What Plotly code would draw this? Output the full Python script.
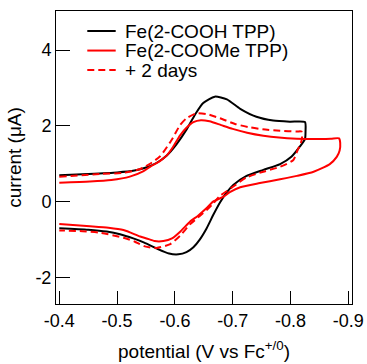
import plotly.graph_objects as go

# ---- data ----
series_names = ["Fe(2-COOH TPP)", "Fe(2-COOMe TPP)", "+ 2 days"]

cooh_potential = [-0.400, -0.450, -0.500, -0.530, -0.550, -0.568, -0.586, -0.603, -0.620, -0.635,
                  -0.649, -0.669, -0.690, -0.713, -0.741, -0.770, -0.799, -0.825,
                  -0.826, -0.825,
                  -0.816, -0.802, -0.782, -0.753, -0.724, -0.701, -0.690, -0.678, -0.666,
                  -0.655, -0.643, -0.632, -0.620, -0.606, -0.590, -0.569, -0.547, -0.528, -0.505,
                  -0.482, -0.450, -0.400]
cooh_current = [0.70, 0.73, 0.77, 0.82, 0.90, 1.02, 1.22, 1.52, 1.90, 2.30,
                2.60, 2.77, 2.70, 2.45, 2.24, 2.14, 2.11, 2.10,
                1.85, 1.65,
                1.45, 1.19, 0.99, 0.84, 0.68, 0.44, 0.25, -0.02, -0.36,
                -0.70, -1.00, -1.20, -1.33, -1.39, -1.37, -1.24, -1.08, -0.97, -0.86,
                -0.79, -0.74, -0.70]

coome_potential = [-0.400, -0.453, -0.490, -0.522, -0.545, -0.557, -0.574, -0.586, -0.597, -0.609,
                   -0.620, -0.632, -0.645, -0.660, -0.680, -0.700, -0.725, -0.753, -0.780, -0.811,
                   -0.840, -0.870, -0.884,
                   -0.886, -0.885, -0.880,
                   -0.868, -0.840, -0.811, -0.782, -0.747, -0.713, -0.695, -0.684, -0.666, -0.655,
                   -0.640, -0.626, -0.610, -0.595, -0.580, -0.565, -0.551, -0.540, -0.511, -0.485,
                   -0.453, -0.400]
coome_current = [0.50, 0.53, 0.57, 0.66, 0.80, 0.92, 1.07, 1.22, 1.45, 1.75,
                 1.95, 2.10, 2.15, 2.12, 2.02, 1.92, 1.82, 1.74, 1.69, 1.66,
                 1.65, 1.66, 1.67,
                 1.55, 1.35, 1.18,
                 0.99, 0.79, 0.68, 0.59, 0.49, 0.38, 0.25, 0.13, 0.00, -0.17,
                 -0.37, -0.53, -0.78, -0.97, -1.04, -1.04, -0.97, -0.92, -0.75, -0.69,
                 -0.65, -0.59]

days2_potential = [-0.400, -0.470, -0.511, -0.540, -0.557, -0.574, -0.594, -0.609, -0.620, -0.637,
                   -0.655, -0.678, -0.704, -0.730, -0.752, -0.782, -0.811, -0.819,
                   -0.820, -0.818,
                   -0.812, -0.805, -0.782, -0.753, -0.724, -0.701, -0.690, -0.678, -0.666, -0.655,
                   -0.643, -0.626, -0.609, -0.592, -0.568, -0.548, -0.530, -0.511, -0.470, -0.440,
                   -0.400]
days2_current = [0.66, 0.73, 0.76, 0.86, 1.00, 1.19, 1.62, 2.02, 2.20, 2.33,
                 2.31, 2.20, 2.05, 1.96, 1.91, 1.87, 1.85, 1.85,
                 1.70, 1.55,
                 1.35, 1.10, 0.92, 0.79, 0.64, 0.40, 0.28, 0.15, -0.05, -0.22,
                 -0.38, -0.60, -0.90, -1.12, -1.22, -1.18, -1.05, -0.95, -0.82, -0.78,
                 -0.76]

x_tick_vals = [-0.4, -0.5, -0.6, -0.7, -0.8, -0.9]
x_tick_text = ["-0.4", "-0.5", "-0.6", "-0.7", "-0.8", "-0.9"]
y_tick_vals = [-2, 0, 2, 4]
y_tick_text = ["-2", "0", "2", "4"]

colors = ["black", "#ff0000", "#ff0000"]
dashes = ["solid", "solid", "7px,4px"]

FONT = "Liberation Sans, Arial, Helvetica, sans-serif"

fig = go.Figure()
for name, xs, ys, c, d in zip(series_names,
                              [cooh_potential, coome_potential, days2_potential],
                              [cooh_current, coome_current, days2_current],
                              colors, dashes):
    fig.add_trace(go.Scatter(x=xs, y=ys, mode="lines", name=name, showlegend=False,
                             line=dict(color=c, width=2, dash=d, shape="spline", smoothing=0.6)))

# legend drawn manually (to match compact row spacing)
leg_rows = [0.9317, 0.865, 0.7986]
for name, c, d, yy in zip(series_names, colors, dashes, leg_rows):
    fig.add_shape(type="line", xref="paper", yref="paper", x0=0.1057, x1=0.2017, y0=yy, y1=yy,
                  line=dict(color=c, width=2, dash=d))
    fig.add_annotation(xref="paper", yref="paper", x=0.2274, y=yy, text=name, showarrow=False,
                       xanchor="left", yanchor="middle", font=dict(family=FONT, size=19, color="black"))

fig.update_layout(
    width=367, height=364,
    margin=dict(l=56, r=15, t=11, b=60),
    paper_bgcolor="white", plot_bgcolor="white",
    font=dict(family=FONT, size=18, color="black"),
    showlegend=False,
)
fig.update_xaxes(range=[-0.3943, -0.9064], tickvals=x_tick_vals, ticktext=x_tick_text,
                 ticks="inside", ticklen=13, tickwidth=1, tickcolor="black",
                 showline=True, linecolor="black", linewidth=1, mirror=True,
                 showgrid=False, zeroline=False, automargin=False,
                 tickfont=dict(size=18),
                 title=dict(text="potential (V vs Fc<sup>+/0</sup>)", font=dict(size=19), standoff=15))
fig.update_yaxes(range=[-2.70, 5.03], tickvals=y_tick_vals, ticktext=y_tick_text,
                 ticks="inside", ticklen=14, tickwidth=1, tickcolor="black",
                 showline=True, linecolor="black", linewidth=1, mirror=True,
                 showgrid=False, zeroline=False, automargin=False,
                 tickfont=dict(size=18),
                 title=dict(text="current (μA)", font=dict(size=19), standoff=8))

fig.write_html("out.html")
